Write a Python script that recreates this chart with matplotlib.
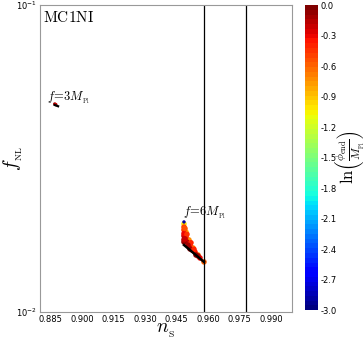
import numpy as np
import matplotlib
matplotlib.use("Agg")
import matplotlib.pyplot as plt
from matplotlib.ticker import FixedLocator, NullLocator

plt.rcParams['mathtext.fontset'] = 'cm'

# ---- data ----
# f = 6 M_Pl cluster: (n_s, f_NL, ln(phi_end/M_Pl))
ns_f6 = [0.94857, 0.94952, 0.95095, 0.95286, 0.95524, 0.95810,
         0.94857, 0.94952, 0.95143, 0.95381, 0.95619,
         0.94857, 0.95000, 0.95238, 0.95524,
         0.94857, 0.95143, 0.95429,
         0.94857, 0.94857, 0.94857,
         0.94905, 0.95000, 0.95190, 0.95333, 0.94905, 0.95048]
fnl_f6 = [0.01935, 0.01822, 0.01716, 0.01616, 0.01533, 0.01455,
          0.01850, 0.01756, 0.01652, 0.01568, 0.01499,
          0.01769, 0.01690, 0.01592, 0.01522,
          0.01690, 0.01604, 0.01533,
          0.01890, 0.01800, 0.01720,
          0.01870, 0.01790, 0.01680, 0.01600, 0.01730, 0.01650]
ln_f6 = [-1.0, -0.8, -0.75, -0.7, -0.7, -0.6,
         -0.45, -0.4, -0.35, -0.35, -0.3,
         -0.2, -0.15, -0.15, -0.15,
         -0.05, -0.05, -0.05,
         -0.5, -0.3, -0.15,
         -0.55, -0.45, -0.4, -0.4, -0.2, -0.1]
ns_f6_top = [0.94857]
fnl_f6_top = [0.01964]
ln_f6_top = [-2.9]
ns_f6_line = [0.94857, 0.95810]
fnl_f6_line = [0.01652, 0.01455]

# f = 3 M_Pl cluster
ns_f3 = [0.88700, 0.88750]
fnl_f3 = [0.04760, 0.04740]
ln_f3 = [-0.1, -0.2]
ns_f3_line = [0.88700, 0.88860]
fnl_f3_line = [0.04724, 0.04680]

# observational bounds on n_s
ns_bounds = [0.958, 0.978]

xticks = [0.885, 0.900, 0.915, 0.930, 0.945, 0.960, 0.975, 0.990]
cbar_ticks = [-3.0, -2.7, -2.4, -2.1, -1.8, -1.5, -1.2, -0.9, -0.6, -0.3, 0.0]

# ---- figure ----
fig = plt.figure(figsize=(3.64, 3.39), dpi=100)
ax = fig.add_axes([0.110, 0.080, 0.692, 0.905])
cax = fig.add_axes([0.838, 0.085, 0.036, 0.900])

cmap = plt.get_cmap('jet', 64)
ax.plot(ns_f6_line, fnl_f6_line, color='black', lw=1.8, zorder=3)
ax.plot(ns_f3_line, fnl_f3_line, color='black', lw=1.6, zorder=3)
sc = ax.scatter(ns_f6, fnl_f6, c=ln_f6, cmap=cmap, vmin=-3, vmax=0,
                s=16, marker='o', edgecolors='none', zorder=2)
ax.scatter(ns_f6_top, fnl_f6_top, c=ln_f6_top, cmap=cmap, vmin=-3, vmax=0,
           s=6, edgecolors='none', zorder=4)
ax.scatter(ns_f3, fnl_f3, c=ln_f3, cmap=cmap, vmin=-3, vmax=0,
           s=6, edgecolors='none', zorder=2)
for v in ns_bounds:
    ax.axvline(v, color='black', lw=0.9)

ax.set_yscale('log')
ax.set_xlim(0.88, 1.0)
ax.set_ylim(0.01, 0.1)
ax.xaxis.set_major_locator(FixedLocator(xticks))
ax.set_xticklabels(['%.3f' % t for t in xticks])
ax.yaxis.set_minor_locator(NullLocator())
ax.tick_params(axis='both', which='both', length=0, labelsize=6, pad=2)
for s in ax.spines.values():
    s.set_color('#999999')
    s.set_linewidth(0.8)

ax.text(0.012, 0.985, r'$\mathrm{MC1NI}$', transform=ax.transAxes,
        fontsize=11, va='top', ha='left')
ax.text(0.8833, 0.0490, r'$f\!=\!3M_{_{\rm Pl}}$', fontsize=9, va='baseline')
ax.text(0.9481, 0.0206, r'$f\!=\!6M_{_{\rm Pl}}$', fontsize=9, va='baseline')

ax.set_xlabel(r'$n_{_{\rm S}}$', fontsize=14)
ax.set_ylabel(r'$f_{_{\rm NL}}$', fontsize=14)
ax.xaxis.set_label_coords(0.5, -0.03)
ax.yaxis.set_label_coords(-0.06, 0.5)

cb = fig.colorbar(sc, cax=cax, ticks=cbar_ticks)
cb.outline.set_visible(False)
cb.ax.tick_params(labelsize=6, length=0, pad=2)
cb.ax.set_yticklabels(['%.1f' % t if t != 0 else '0.0' for t in cbar_ticks])
cb.set_label(r'$\ln\!\left(\frac{\phi_{\rm end}}{M_{_{\rm Pl}}}\right)$',
             fontsize=12)
cb.ax.yaxis.set_label_coords(2.1, 0.5)

fig.savefig('out.png', dpi=100)
